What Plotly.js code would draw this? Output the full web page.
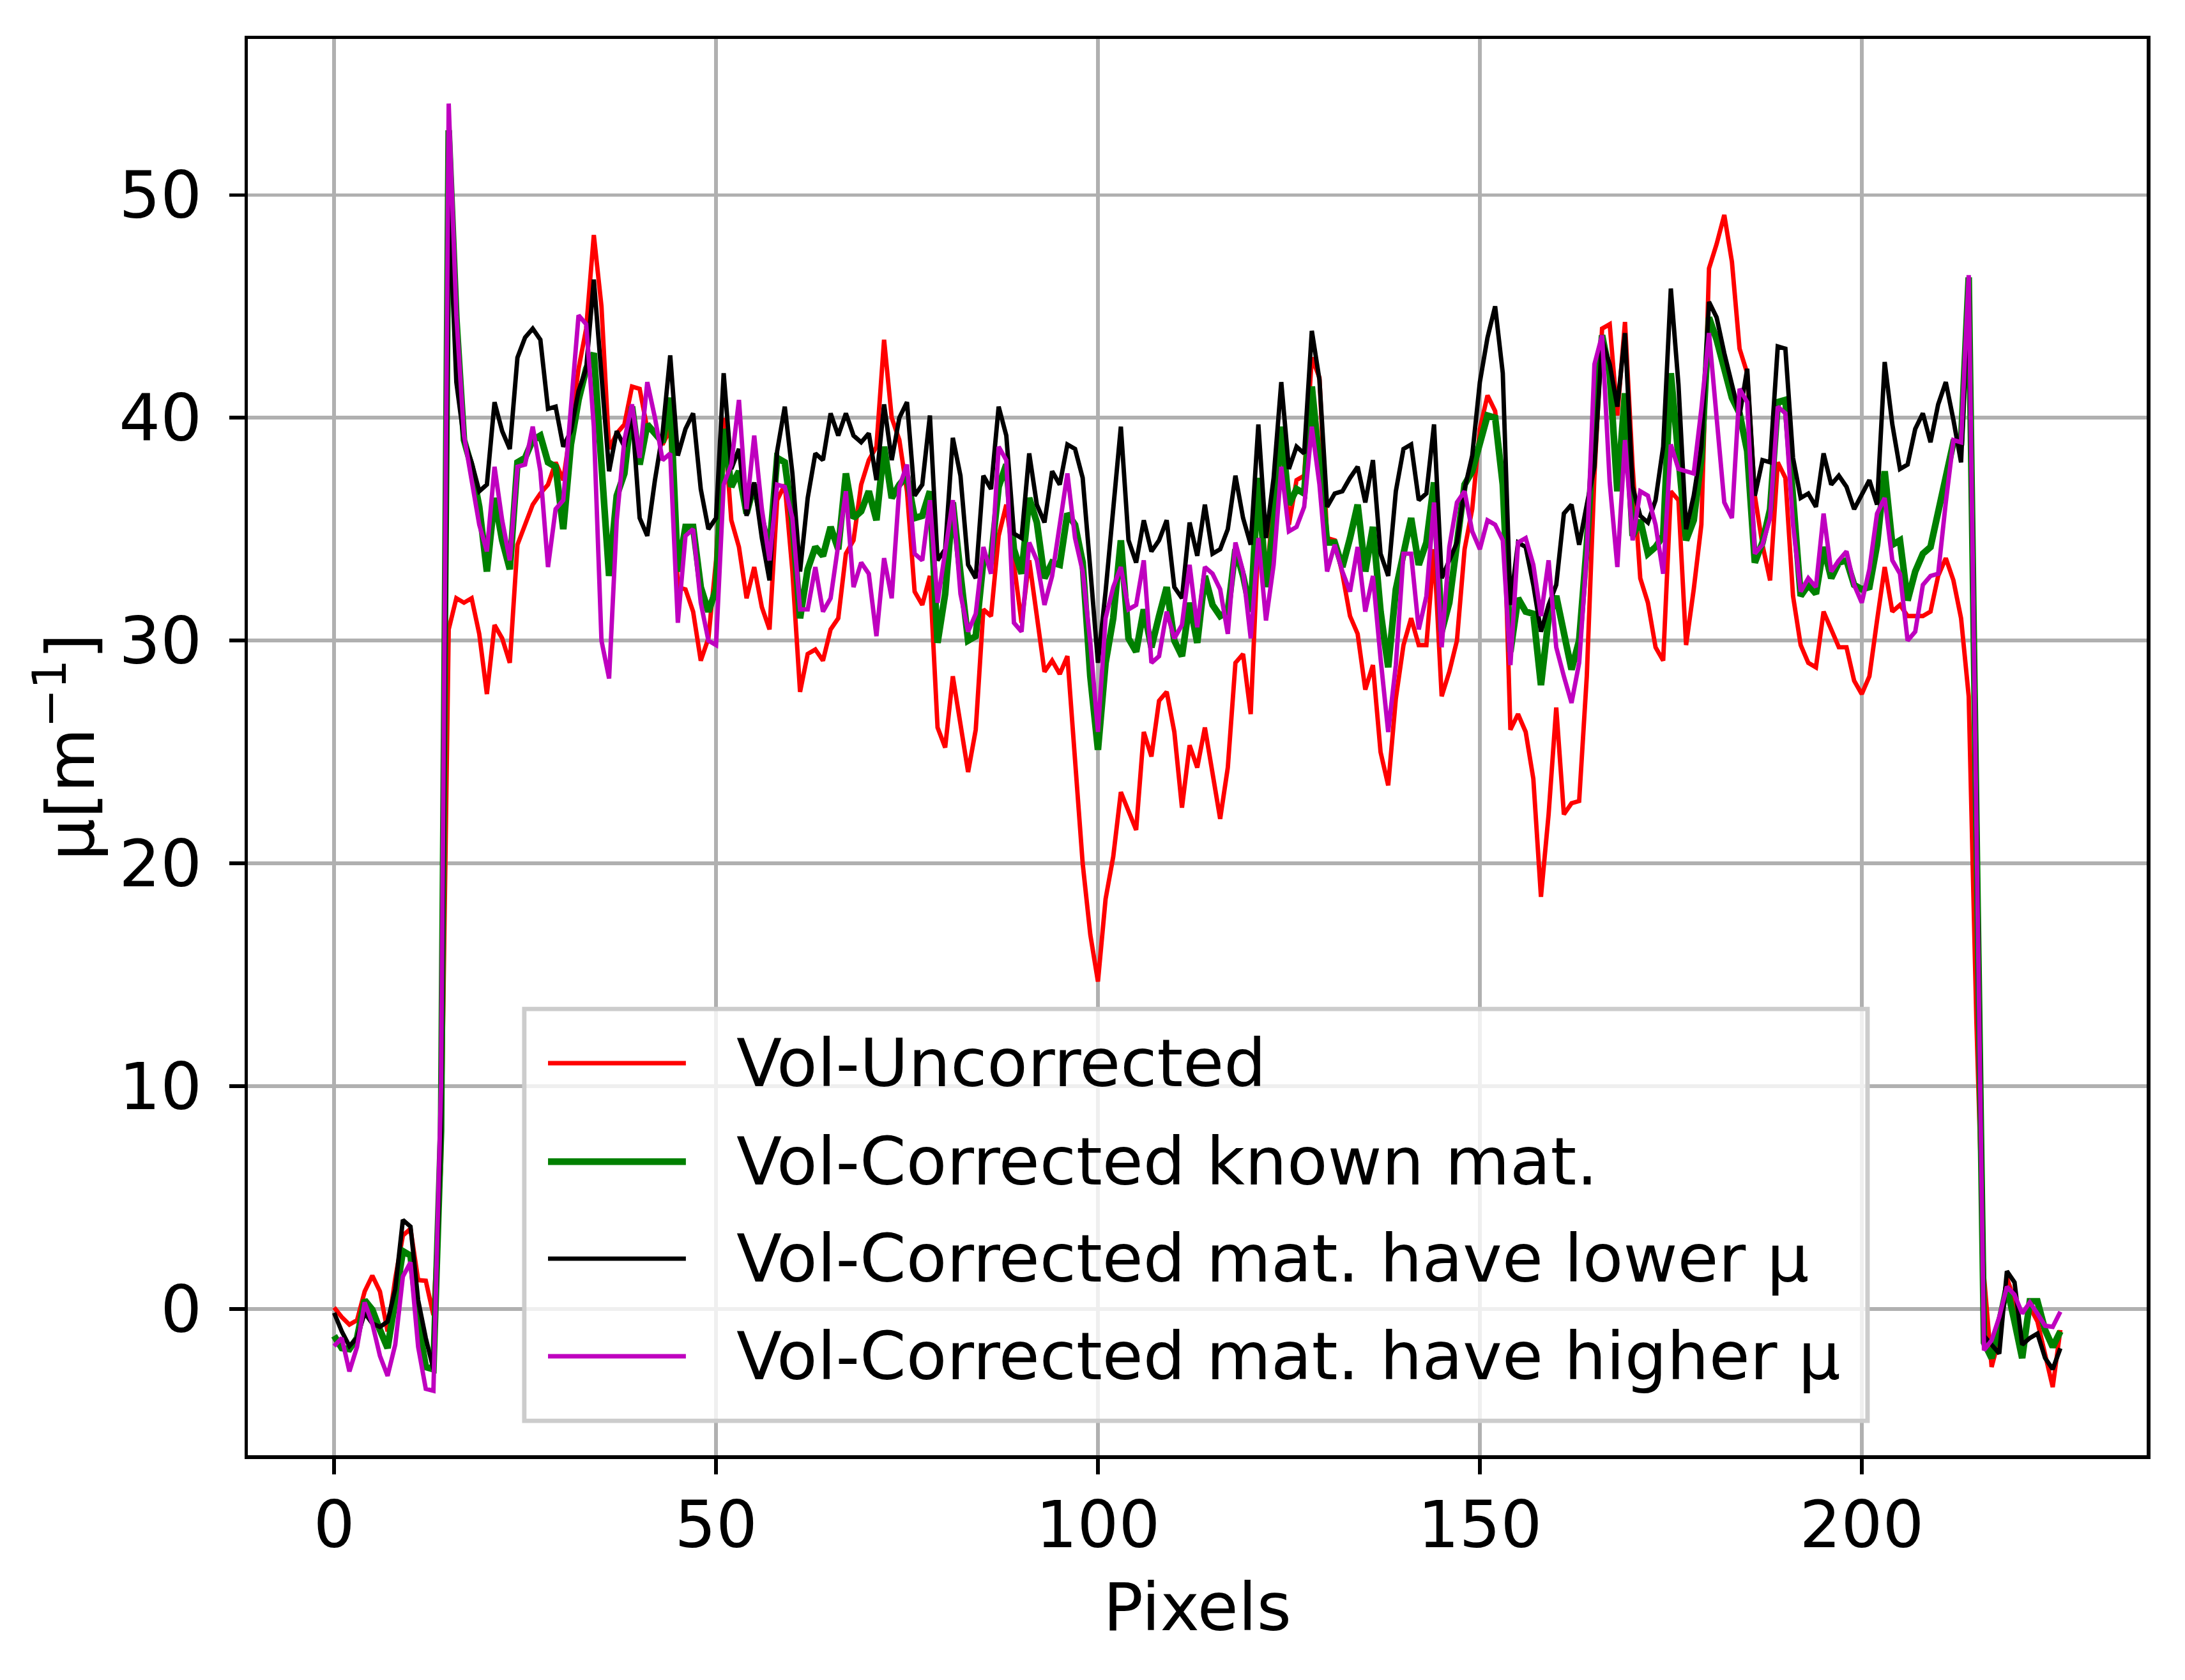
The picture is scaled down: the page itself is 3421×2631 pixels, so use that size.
<!DOCTYPE html>
<html>
<head>
<meta charset="utf-8">
<script src="https://cdn.plot.ly/plotly-3.0.1.min.js"></script>
<style>
  html, body { margin: 0; padding: 0; background: #fff; }
  #myDiv { width: 3421px; height: 2631px; }
</style>
</head>
<body>
<div id="myDiv"></div>
<script>
// pixel index along the profile
var pixels = [];
for (var i = 0; i < 227; i++) pixels.push(i);

// series values
var volUncorrected = [
  0.07, -0.36, -0.7, -0.5, 0.79, 1.5, 0.79, -1.0, 1.36, 3.3,
  3.6, 1.3, 1.27, -0.27, 6.5, 30.5, 31.9, 31.7, 31.9, 30.3,
  27.6, 30.7, 30.1, 29.0, 34.3, 35.2, 36.1, 36.6, 37.0, 38.0,
  37.2, 39.6, 42.2, 44.0, 48.2, 45.0, 38.6, 39.3, 39.7, 41.4,
  41.3, 39.5, 39.4, 38.8, 39.5, 32.4, 32.3, 31.3, 29.1, 30.1,
  33.6, 40.0, 35.4, 34.2, 31.9, 33.3, 31.5, 30.5, 36.3, 37.0,
  33.1, 27.7, 29.4, 29.6, 29.1, 30.5, 31.0, 33.9, 34.5, 37.0,
  38.1, 38.7, 43.5, 40.0, 39.0, 36.7, 32.2, 31.6, 32.9, 26.1,
  25.2, 28.4, 26.2, 24.1, 26.0, 31.4, 31.1, 34.7, 36.1, 33.6,
  30.8, 33.6, 31.0, 28.6, 29.1, 28.5, 29.3, 24.6, 20.0, 16.8,
  14.7, 18.4, 20.3, 23.2, 22.3, 21.5, 25.9, 24.8, 27.3, 27.7,
  25.9, 22.5, 25.3, 24.3, 26.1, 24.0, 22.0, 24.3, 29.0, 29.4,
  26.7, 34.6, 32.6, 36.2, 39.2, 35.2, 37.2, 37.4, 42.7, 41.8,
  34.6, 34.5, 33.0, 31.1, 30.3, 27.8, 28.9, 25.0, 23.5, 27.4,
  29.8, 31.0, 29.8, 29.8, 34.1, 27.5, 28.6, 30.0, 34.1, 35.9,
  39.5, 41.0, 40.3, 37.3, 26.0, 26.7, 25.9, 23.8, 18.5, 22.2,
  27.0, 22.2, 22.7, 22.8, 28.4, 37.4, 44.0, 44.2, 40.1, 44.3,
  37.8, 32.8, 31.7, 29.7, 29.1, 36.7, 36.3, 29.8, 32.3, 35.2,
  46.7, 47.8, 49.1, 47.0, 43.1, 42.0, 36.5, 34.3, 32.7, 38.0,
  37.3, 32.0, 29.8, 29.0, 28.8, 31.3, 30.5, 29.7, 29.7, 28.2,
  27.6, 28.4, 30.9, 33.3, 31.3, 31.6, 31.1, 31.1, 31.1, 31.3,
  32.9, 33.7, 32.7, 31.0, 27.5, 13.0, 1.5, -2.6, -1.3, 1.4,
  0.4, -1.7, 0.1, -0.56, -2.0, -3.5, -0.94
];

var volKnown = [
  -1.2, -1.75, -1.8, -1.3, 0.4, -0.03, -0.94, -1.75, 0.4, 2.6,
  2.4, -0.56, -2.6, -2.7, 8.0, 52.9, 44.5, 39.0, 37.8, 36.0,
  33.1, 36.4, 34.5, 33.2, 38.0, 38.2, 39.0, 39.2, 38.0, 37.8,
  35.0, 38.8, 40.8, 42.2, 42.9, 38.0, 32.9, 36.5, 37.5, 40.5,
  37.9, 39.7, 39.3, 38.9, 40.9, 33.1, 35.1, 35.1, 32.4, 31.3,
  32.3, 39.5, 36.9, 37.6, 35.7, 37.0, 35.4, 34.1, 38.2, 38.0,
  35.4, 31.0, 33.2, 34.2, 33.8, 35.1, 34.1, 37.5, 35.5, 35.8,
  36.7, 35.4, 38.7, 36.4, 37.0, 37.4, 35.5, 35.6, 36.7, 29.9,
  32.1, 36.2, 33.0, 30.0, 30.2, 33.6, 33.6, 36.9, 37.9, 34.1,
  33.0, 36.4, 35.3, 32.8, 33.5, 33.4, 35.7, 35.2, 33.5, 28.4,
  25.1, 29.0, 31.0, 34.5, 30.1, 29.5, 31.4, 29.7, 31.1, 32.4,
  30.0, 29.3, 31.7, 29.9, 32.9, 31.6, 31.1, 31.3, 34.1, 32.9,
  31.3, 37.3, 32.4, 35.2, 39.6, 36.1, 36.8, 36.6, 41.4, 38.1,
  34.4, 34.4, 33.3, 34.6, 36.1, 33.1, 35.1, 31.3, 28.8, 32.3,
  33.9, 35.5, 33.4, 34.4, 37.1, 30.4, 31.7, 34.1, 37.0, 37.6,
  38.8, 40.1, 40.0, 37.0, 29.5, 31.9, 31.3, 31.2, 28.0, 31.0,
  32.0, 30.4, 28.7, 30.0, 34.3, 39.6, 43.7, 42.0, 36.7, 41.1,
  34.7, 35.4, 33.9, 34.2, 34.7, 42.0, 37.8, 34.5, 35.4, 38.2,
  44.5, 43.5, 42.2, 40.9, 40.2, 38.5, 33.5, 34.4, 35.9, 40.7,
  40.8, 36.5, 32.0, 32.5, 32.1, 34.2, 32.8, 33.5, 33.6, 32.5,
  32.3, 32.4, 34.3, 37.6, 34.3, 34.5, 31.8, 33.1, 33.9, 34.2,
  35.8, 37.3, 38.9, 38.9, 46.3, 22.0, -1.5, -2.2, -0.65, 1.0,
  -0.56, -2.2, 0.35, 0.35, -0.94, -1.7, -1.0
];

var volLower = [
  -0.17, -1.0, -1.66, -1.3, -0.17, -0.65, -0.8, -0.56, 0.9, 4.0,
  3.7, 0.4, -1.3, -2.7, 8.0, 50.0, 41.6, 39.0, 38.0, 36.7,
  37.0, 40.7, 39.4, 38.6, 42.7, 43.6, 44.0, 43.5, 40.4, 40.5,
  38.7, 39.4, 41.2, 42.2, 46.2, 41.6, 37.6, 39.4, 38.7, 40.2,
  35.5, 34.7, 37.2, 39.3, 42.8, 38.3, 39.5, 40.2, 36.8, 35.0,
  35.5, 42.0, 37.7, 38.6, 35.6, 37.1, 34.6, 32.7, 38.5, 40.5,
  37.5, 33.1, 36.4, 38.4, 38.1, 40.2, 39.2, 40.2, 39.2, 38.9,
  39.3, 37.2, 40.6, 38.1, 40.0, 40.7, 36.5, 37.0, 40.1, 33.6,
  34.1, 39.1, 37.4, 33.4, 32.8, 37.4, 36.8, 40.5, 39.2, 34.8,
  34.6, 38.4, 36.1, 35.3, 37.6, 37.0, 38.8, 38.6, 37.3, 33.2,
  29.0, 32.2, 35.8, 39.6, 34.5, 33.5, 35.4, 34.0, 34.5, 35.4,
  32.4, 31.9, 35.3, 33.8, 36.1, 33.9, 34.1, 35.0, 37.4, 35.5,
  34.3, 39.7, 34.6, 37.3, 41.6, 37.7, 38.7, 38.4, 43.9, 41.7,
  36.0, 36.6, 36.7, 37.3, 37.8, 36.2, 38.1, 33.9, 32.9, 36.7,
  38.6, 38.8, 36.3, 36.6, 39.7, 32.8, 33.6, 34.4, 36.8, 38.3,
  41.6, 43.6, 45.0, 42.0, 31.6, 34.4, 34.2, 32.5, 30.4, 31.6,
  32.5, 35.7, 36.1, 34.3, 36.1, 37.8, 43.5, 42.4, 40.5, 43.8,
  36.9, 35.6, 35.3, 36.3, 38.7, 45.8, 41.5, 35.0, 36.5, 38.7,
  45.2, 44.5, 42.9, 41.4, 40.1, 42.2, 36.5, 38.1, 38.0, 43.2,
  43.1, 38.2, 36.4, 36.6, 36.0, 38.4, 37.0, 37.4, 36.9, 35.9,
  36.6, 37.2, 36.1, 42.5, 39.7, 37.7, 37.9, 39.5, 40.2, 38.9,
  40.6, 41.6, 39.9, 38.0, 46.0, 22.0, -1.2, -1.6, -2.0, 1.7,
  1.2, -1.6, -1.3, -1.1, -2.2, -2.7, -1.76
];

var volHigher = [
  -1.66, -1.3, -2.8, -1.7, 0.3, -0.65, -2.1, -3.0, -1.6, 1.46,
  2.1, -1.7, -3.58, -3.67, 10.0, 54.1, 44.6, 39.2, 37.2, 35.2,
  34.0, 37.8, 35.4, 33.6, 37.8, 37.9, 39.6, 37.6, 33.3, 35.9,
  36.3, 40.4, 44.6, 44.2, 39.6, 30.0, 28.3, 35.4, 39.0, 40.6,
  38.2, 41.6, 40.0, 38.1, 38.4, 30.8, 34.7, 35.0, 31.7, 30.0,
  29.8, 37.0, 37.9, 40.8, 35.9, 39.2, 35.9, 33.6, 37.0, 36.9,
  35.5, 31.4, 31.4, 33.3, 31.3, 31.9, 34.2, 36.7, 32.4, 33.5,
  33.0, 30.2, 33.7, 31.9, 36.9, 37.9, 33.9, 33.6, 36.3, 31.7,
  34.0, 36.3, 32.1, 30.4, 31.2, 34.2, 33.0, 38.7, 38.1, 30.8,
  30.4, 34.4, 33.6, 31.6, 32.9, 35.1, 37.5, 34.6, 33.1, 29.9,
  25.9, 31.0, 32.4, 33.3, 31.4, 31.6, 33.6, 29.0, 29.3, 31.3,
  30.1, 30.7, 33.4, 30.6, 33.3, 33.0, 32.3, 30.3, 34.4, 33.1,
  30.1, 34.6, 30.9, 33.4, 37.8, 34.9, 35.1, 36.0, 39.6, 37.0,
  33.1, 34.3, 33.1, 32.2, 34.2, 31.3, 32.9, 29.2, 25.9, 28.9,
  33.9, 33.9, 30.5, 32.0, 36.2, 29.7, 34.2, 36.2, 36.7, 34.9,
  34.1, 35.4, 35.2, 34.5, 28.9, 34.4, 34.6, 33.4, 31.1, 33.6,
  29.7, 28.4, 27.2, 29.0, 33.9, 42.4, 43.7, 37.1, 33.3, 39.0,
  34.5, 36.7, 36.5, 35.2, 33.0, 38.8, 37.7, 37.6, 37.5, 40.4,
  43.8, 40.0, 36.2, 35.5, 41.3, 40.7, 33.9, 34.3, 35.5, 40.5,
  40.2, 35.2, 32.2, 32.8, 32.4, 35.7, 33.1, 33.6, 34.0, 32.5,
  31.7, 33.2, 35.7, 36.4, 33.6, 33.0, 30.0, 30.4, 32.5, 32.9,
  33.0, 36.2, 39.0, 38.9, 46.4, 22.0, -1.85, -1.4, -0.36, 1.0,
  0.64, -0.2, 0.3, -0.2, -0.75, -0.8, -0.12
];

var seriesNames = [
  'Vol-Uncorrected',
  'Vol-Corrected known mat.',
  'Vol-Corrected mat. have lower \u03bc',
  'Vol-Corrected mat. have higher \u03bc'
];
var seriesColors = ['#ff0000', '#008000', '#000000', '#bf00bf'];
var seriesWidths = [6.9, 10.4, 6.9, 6.9];
var seriesValues = [volUncorrected, volKnown, volLower, volHigher];

var xTicks = [0, 50, 100, 150, 200];
var yTicks = [0, 10, 20, 30, 40, 50];

var FONT = 'DejaVu Sans, Verdana, sans-serif';

// function to build a trace
function makeTrace(k) {
  return {
    x: pixels,
    y: seriesValues[k],
    name: seriesNames[k],
    type: 'scatter',
    mode: 'lines',
    line: {color: seriesColors[k], width: seriesWidths[k]},
    showlegend: false
  };
}

var data = [];
for (var k = 0; k < 4; k++) data.push(makeTrace(k));

// legend drawn by hand so the sample lines can be long like matplotlib's
var shapes = [{
  type: 'rect', xref: 'paper', yref: 'paper',
  x0: 0.1456, x1: 0.853, y0: 0.0243, y1: 0.3151,
  fillcolor: 'rgba(255,255,255,0.8)',
  line: {color: '#cccccc', width: 6.9},
  layer: 'above'
}];
var annotations = [];
var rowY = [0.2768, 0.2073, 0.1388, 0.0699];
for (var k = 0; k < 4; k++) {
  shapes.push({
    type: 'line', xref: 'paper', yref: 'paper',
    x0: 0.1581, x1: 0.2307, y0: rowY[k], y1: rowY[k],
    line: {color: seriesColors[k], width: seriesWidths[k]},
    layer: 'above'
  });
  annotations.push({
    xref: 'paper', yref: 'paper', x: 0.2568, y: rowY[k],
    xanchor: 'left', yanchor: 'middle', showarrow: false,
    text: seriesNames[k],
    font: {family: FONT, size: 104, color: '#000'}
  });
}

var axisCommon = {
  showline: true, mirror: true, linecolor: '#000', linewidth: 5.5,
  ticks: 'outside', ticklen: 24, tickwidth: 5.5, tickcolor: '#000',
  showgrid: true, gridcolor: '#b0b0b0', gridwidth: 5.5,
  zeroline: false,
  tickfont: {family: FONT, size: 102, color: '#000'},
  automargin: false
};

var layout = {
  width: 3421, height: 2631,
  margin: {l: 388, r: 60, t: 61, b: 352, pad: 0},
  paper_bgcolor: '#fff', plot_bgcolor: '#fff',
  font: {family: FONT, size: 104, color: '#000'},
  showlegend: false,
  xaxis: Object.assign({}, axisCommon, {
    range: [-11.3, 237.3],
    ticklabelstandoff: -8,
    tickmode: 'array', tickvals: xTicks, ticktext: xTicks.map(String),
    title: {text: 'Pixels', font: {family: FONT, size: 104, color: '#000'}, standoff: 36}
  }),
  yaxis: Object.assign({}, axisCommon, {
    range: [-6.56, 57.0],
    ticklabelstandoff: 22,
    tickmode: 'array', tickvals: yTicks, ticktext: yTicks.map(String),
    title: {text: '\u03bc[m<sup>\u22121</sup>]', font: {family: FONT, size: 104, color: '#000'}, standoff: 6}
  }),
  shapes: shapes,
  annotations: annotations
};

Plotly.newPlot('myDiv', data, layout, {staticPlot: true});
</script>
</body>
</html>
